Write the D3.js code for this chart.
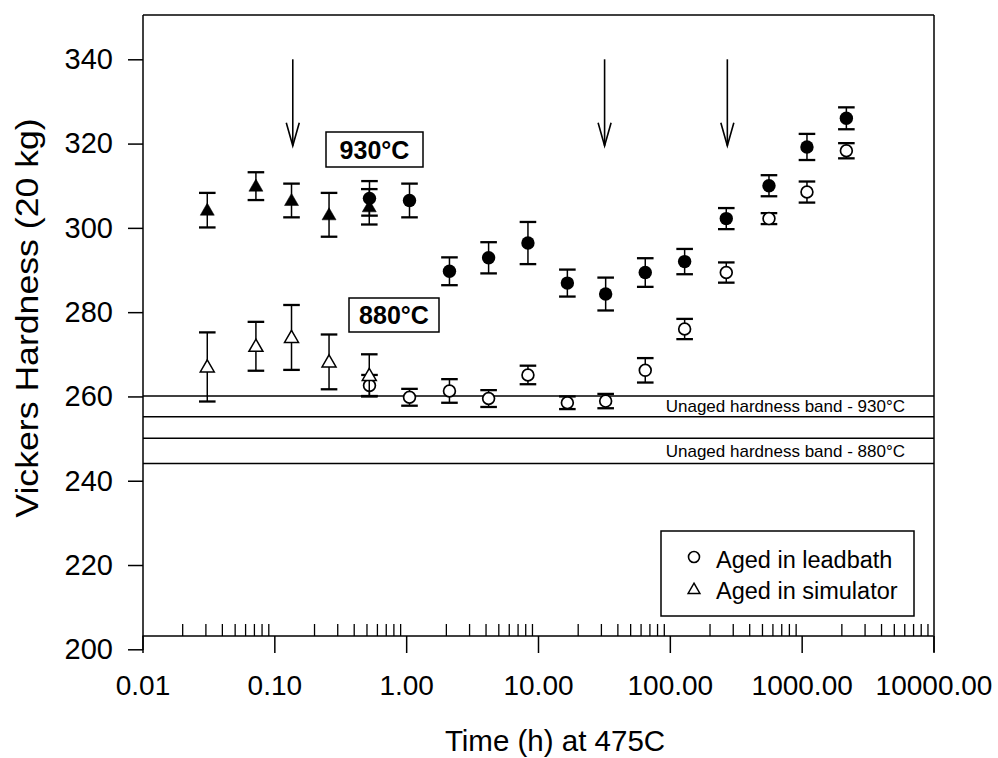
<!DOCTYPE html>
<html>
<head>
<meta charset="utf-8">
<script src="https://cdn.jsdelivr.net/npm/d3@7"></script>
<style>
  html, body { margin: 0; padding: 0; background: #fff; }
  svg { display: block; }
  text { font-family: "Liberation Sans", Arial, sans-serif; fill: #000; }
</style>
</head>
<body>
<svg id="chart" width="998" height="758"></svg>
<script>
// ---------------- data ----------------
const leadTimes   = [0.527, 1.06, 2.13, 4.22, 8.39, 16.7, 32.6, 65.1, 129.5, 268, 565, 1097, 2183];
const lead930     = [307.0, 306.5, 289.7, 292.9, 296.4, 286.9, 284.3, 289.4, 292.0, 302.2, 310.0, 319.2, 326.0];
const lead930Err  = [4.1, 4.0, 3.3, 3.7, 5.0, 3.2, 3.9, 3.4, 3.0, 2.5, 2.5, 3.1, 2.6];
const lead880     = [262.6, 259.8, 261.3, 259.5, 265.1, 258.5, 258.9, 266.2, 276.0, 289.4, 302.2, 308.5, 318.3];
const lead880Err  = [2.5, 2.0, 2.8, 2.0, 2.2, 1.5, 1.7, 2.9, 2.4, 2.4, 1.3, 2.5, 1.8];

const simTimes    = [0.031, 0.0725, 0.135, 0.26, 0.525];
const sim930      = [304.2, 309.9, 306.5, 303.1, 305.0];
const sim930Err   = [4.1, 3.3, 4.0, 5.2, 4.2];
const sim880      = [267.0, 271.9, 274.0, 268.2, 265.0];
const sim880Err   = [8.2, 5.8, 7.7, 6.5, 5.0];

const band930     = [255.2, 260.1];
const band880     = [244.1, 250.1];
const bandLabels  = ["Unaged hardness band - 930°C", "Unaged hardness band - 880°C"];

const arrowTimes  = [0.138, 32, 273];
const arrowFrom   = 340;
const arrowTo     = 319.5;

const xTickValues = [0.01, 0.1, 1, 10, 100, 1000, 10000];
const xTickLabels = ["0.01", "0.10", "1.00", "10.00", "100.00", "1000.00", "10000.00"];
const yTickValues = [200, 220, 240, 260, 280, 300, 320, 340];

const legendLabels = ["Aged in leadbath", "Aged in simulator"];
const annotLabels  = ["930°C", "880°C"];

// ---------------- setup ----------------
const svg = d3.select("#chart");
const x = d3.scaleLog().domain([0.01, 10000]).range([142.5, 933.5]);
const y = d3.scaleLinear().domain([200, 340]).range([649.3, 59.3]);
const frameTop = 15, xAxisY = 636;

// minor ticks
const minorVals = [];
for (let e = -2; e < 4; e++) for (let k = 2; k <= 9; k++) minorVals.push(k * Math.pow(10, e));

// frame lines (top, right, left)
svg.append("line").attr("x1", 143).attr("x2", 934).attr("y1", frameTop).attr("y2", frameTop)
  .attr("stroke", "#000").attr("stroke-width", 1.5);
svg.append("line").attr("x1", 934).attr("x2", 934).attr("y1", frameTop).attr("y2", 652)
  .attr("stroke", "#000").attr("stroke-width", 1.5);
svg.append("line").attr("x1", 143).attr("x2", 143).attr("y1", frameTop).attr("y2", 650)
  .attr("stroke", "#000").attr("stroke-width", 1.5);

// y axis
const yAxis = svg.append("g").attr("transform", "translate(143,0)")
  .call(d3.axisLeft(y).tickValues(yTickValues).tickSize(15).tickPadding(15).tickFormat(d3.format("d")));
yAxis.select(".domain").remove();
yAxis.selectAll(".tick line").attr("stroke-width", 1.5);
yAxis.selectAll(".tick text").style("font-size", "29px").style("font-family", "Liberation Sans, Arial, sans-serif");

// x axis (major ticks downward)
const xAxis = svg.append("g").attr("transform", `translate(0,${xAxisY})`)
  .call(d3.axisBottom(x).tickValues(xTickValues).tickSize(17).tickPadding(22)
    .tickFormat((d, i) => xTickLabels[i]));
xAxis.select(".domain").attr("d", `M${x(0.01)},0H${x(10000)}`).attr("stroke-width", 1.5);
xAxis.selectAll(".tick line").attr("stroke-width", 1.5);
xAxis.selectAll(".tick text").style("font-size", "28px").style("font-family", "Liberation Sans, Arial, sans-serif");

// minor ticks upward
const xMinor = svg.append("g").attr("transform", `translate(0,${xAxisY})`)
  .call(d3.axisTop(x).tickValues(minorVals).tickSize(12).tickFormat(""));
xMinor.select(".domain").remove();
xMinor.selectAll(".tick line").attr("stroke-width", 1.3);

// axis titles
svg.append("text").attr("x", 555).attr("y", 751).attr("text-anchor", "middle")
  .style("font-size", "29.5px").text("Time (h) at 475C");
svg.append("text").attr("transform", "translate(38,318) rotate(-90) scale(1.15,1)").attr("text-anchor", "middle")
  .style("font-size", "31px").text("Vickers Hardness (20 kg)");

// bands
const bands = [band930, band880];
bands.forEach((b, i) => {
  b.forEach(v => {
    svg.append("line").attr("x1", 143).attr("x2", 934).attr("y1", y(v)).attr("y2", y(v))
      .attr("stroke", "#000").attr("stroke-width", 1.5);
  });
  svg.append("text").attr("x", 905).attr("y", (y(b[0]) + y(b[1])) / 2 + 6)
    .attr("text-anchor", "end").style("font-size", "17px").text(bandLabels[i]);
});

// arrows
const arrows = svg.append("g").attr("stroke", "#000").attr("stroke-width", 1.6).attr("fill", "none");
arrowTimes.forEach(t => {
  const ax = x(t), y0 = y(arrowFrom), y1 = y(arrowTo);
  arrows.append("line").attr("x1", ax).attr("x2", ax).attr("y1", y0).attr("y2", y1);
  arrows.append("path").attr("d", `M${ax - 6.5},${y1 - 23}L${ax},${y1}L${ax + 6.5},${y1 - 23}`);
});

// error bars
function errorBars(times, vals, errs) {
  const g = svg.append("g").attr("stroke", "#000");
  times.forEach((t, i) => {
    const cx = x(t), yt = y(vals[i] + errs[i]), yb = y(vals[i] - errs[i]);
    g.append("line").attr("x1", cx).attr("x2", cx).attr("y1", yt).attr("y2", yb).attr("stroke-width", 1.5);
    g.append("line").attr("x1", cx - 8.3).attr("x2", cx + 8.3).attr("y1", yt).attr("y2", yt).attr("stroke-width", 2.3);
    g.append("line").attr("x1", cx - 8.3).attr("x2", cx + 8.3).attr("y1", yb).attr("y2", yb).attr("stroke-width", 2.3);
  });
}
const triSym = d3.symbol().type(d3.symbolTriangle).size(85);
function circles(times, vals, filled) {
  svg.append("g").selectAll("circle").data(times).join("circle")
    .attr("cx", d => x(d)).attr("cy", (d, i) => y(vals[i]))
    .attr("r", filled ? 6.7 : 5.9)
    .attr("fill", filled ? "#000" : "#fff")
    .attr("stroke", "#000").attr("stroke-width", filled ? 0 : 1.7);
}
function triangles(times, vals, filled) {
  svg.append("g").selectAll("path").data(times).join("path")
    .attr("d", triSym)
    .attr("transform", (d, i) => `translate(${x(d)},${y(vals[i]) + 1})`)
    .attr("fill", filled ? "#000" : "#fff")
    .attr("stroke", "#000").attr("stroke-width", filled ? 0.5 : 1.5);
}

errorBars(leadTimes, lead880, lead880Err);
circles(leadTimes, lead880, false);
errorBars(leadTimes, lead930, lead930Err);
circles(leadTimes, lead930, true);
errorBars(simTimes, sim880, sim880Err);
triangles(simTimes, sim880, false);
errorBars(simTimes, sim930, sim930Err);
triangles(simTimes, sim930, true);

// annotation boxes
const annotBoxes = [[326, 132, 97, 35], [349, 298, 90, 34]];
annotBoxes.forEach((b, i) => {
  svg.append("rect").attr("x", b[0]).attr("y", b[1]).attr("width", b[2]).attr("height", b[3])
    .attr("fill", "#fff").attr("stroke", "#000").attr("stroke-width", 1.5);
  svg.append("text").attr("x", b[0] + b[2] / 2).attr("y", b[1] + b[3] / 2 + 9)
    .attr("text-anchor", "middle").style("font-size", "25px").style("font-weight", "bold")
    .text(annotLabels[i]);
});

// legend
const lg = svg.append("g");
lg.append("rect").attr("x", 661).attr("y", 531).attr("width", 253).attr("height", 85)
  .attr("fill", "#fff").attr("stroke", "#000").attr("stroke-width", 1.5);
lg.append("circle").attr("cx", 694).attr("cy", 557).attr("r", 5.5)
  .attr("fill", "#fff").attr("stroke", "#000").attr("stroke-width", 1.6);
lg.append("path").attr("d", d3.symbol().type(d3.symbolTriangle).size(60))
  .attr("transform", "translate(694,590)")
  .attr("fill", "#fff").attr("stroke", "#000").attr("stroke-width", 1.5);
legendLabels.forEach((l, i) => {
  lg.append("text").attr("x", 716).attr("y", 568 + i * 31).style("font-size", "23.5px").text(l);
});
</script>
</body>
</html>
